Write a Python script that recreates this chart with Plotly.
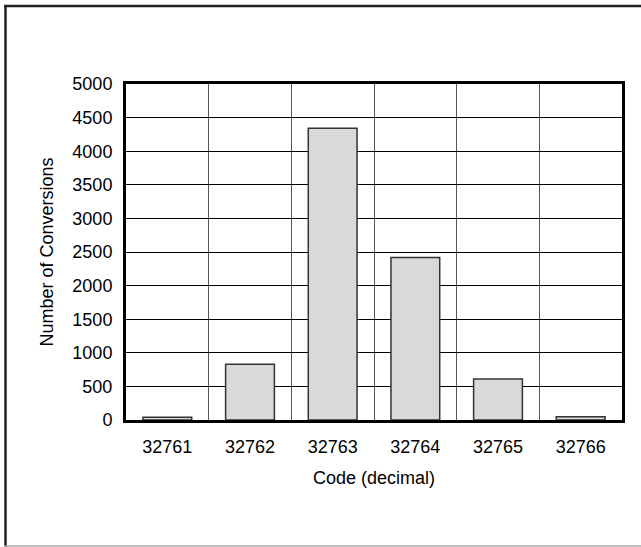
import plotly.graph_objects as go

codes = [32761, 32762, 32763, 32764, 32765, 32766]
code_labels = ["32761", "32762", "32763", "32764", "32765", "32766"]
conversions = [40, 830, 4340, 2420, 610, 50]
y_ticks = [0, 500, 1000, 1500, 2000, 2500, 3000, 3500, 4000, 4500, 5000]

W, H = 641, 547
L, R, T, B = 126, 19, 84, 127
pw, ph = W - L - R, H - T - B

def px(x):
    return (x - L) / pw

def py(y):
    return (H - B - y) / ph

FONT = dict(family="Liberation Sans, Arial, sans-serif", size=18, color="#000")

fig = go.Figure(go.Bar(
    x=codes, y=conversions,
    marker=dict(color="#d9d9d9", line=dict(color="#333333", width=1.5)),
    width=0.59,
))

boundaries = [c + 0.5 for c in codes[:-1]]

fig.update_layout(
    width=W, height=H,
    margin=dict(l=L, r=R, t=T, b=B),
    paper_bgcolor="white", plot_bgcolor="white",
    font=FONT,
    showlegend=False,
    xaxis=dict(
        range=[codes[0] - 0.5, codes[-1] + 0.5],
        tickmode="array", tickvals=codes, ticktext=code_labels,
        showgrid=False, zeroline=False,
        showline=True, mirror=True, linecolor="#000", linewidth=3,
        ticks="", ticklabelstandoff=8,
        minor=dict(tickmode="array", tickvals=boundaries, showgrid=True,
                   gridcolor="#555555", gridwidth=1, ticks=""),
        title=dict(text="Code (decimal)", font=FONT, standoff=16),
        fixedrange=True,
    ),
    yaxis=dict(
        range=[0, 5000],
        tickmode="array", tickvals=y_ticks,
        showgrid=True, gridcolor="#000", gridwidth=1,
        zeroline=False,
        showline=True, mirror=True, linecolor="#000", linewidth=3,
        ticks="", ticklabelstandoff=7,
        title=dict(text="Number of Conversions", font=FONT, standoff=15),
        fixedrange=True,
    ),
    shapes=[
        dict(type="line", xref="paper", yref="paper", x0=px(4), x1=px(641), y0=py(6), y1=py(6),
             line=dict(color="#222", width=2.5)),
        dict(type="line", xref="paper", yref="paper", x0=px(5.5), x1=px(5.5), y0=py(5), y1=py(547),
             line=dict(color="#222", width=2.5)),
        dict(type="line", xref="paper", yref="paper", x0=px(4), x1=px(641), y0=py(546), y1=py(546),
             line=dict(color="#aaaaaa", width=1.5)),
    ],
)

fig.write_html(
    "out.html",
    config={"displayModeBar": False},
    post_script="document.body.style.margin='0px';document.body.style.overflow='hidden';",
)
